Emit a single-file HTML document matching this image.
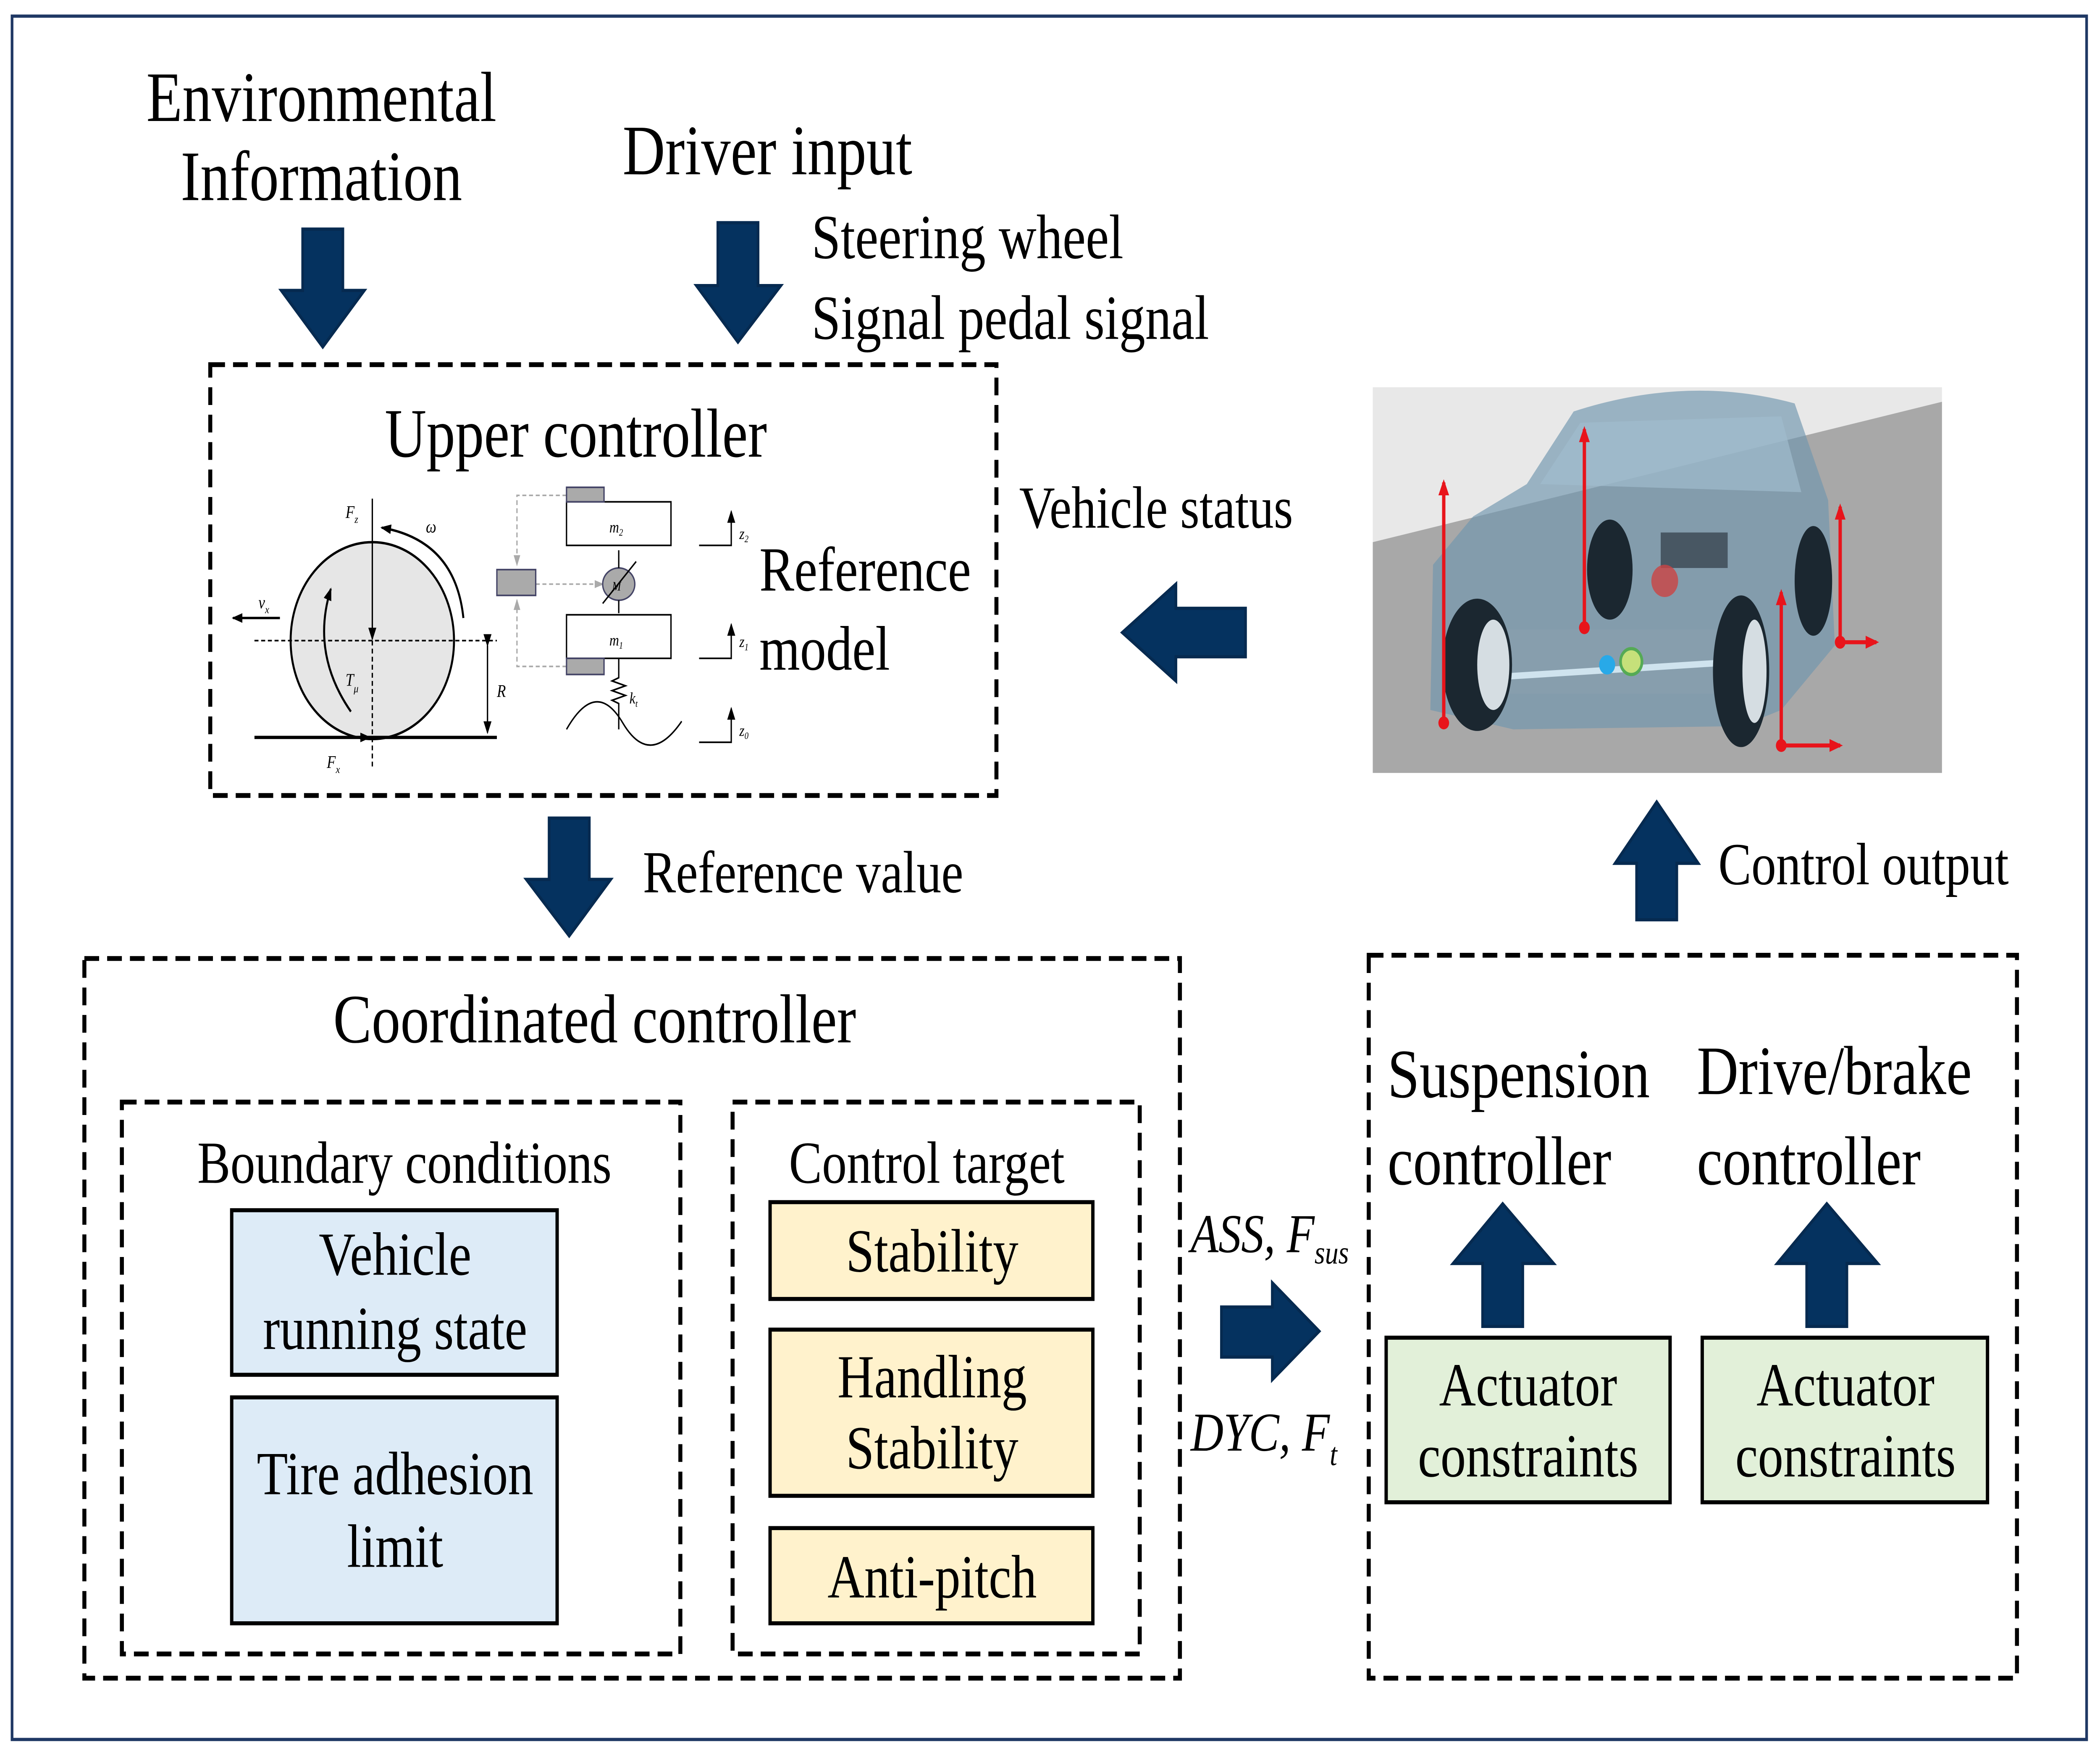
<!DOCTYPE html>
<html><head><meta charset="utf-8"><style>
html,body{margin:0;padding:0;background:#fff;width:100%;height:100%;overflow:hidden}
svg{display:block;position:fixed;left:0;top:0;width:100vw;height:100vh}
text{font-family:"Liberation Serif",serif;fill:#000}
</style></head><body>
<svg viewBox="0 0 1568 1087" preserveAspectRatio="none" xmlns="http://www.w3.org/2000/svg">
<defs>
<marker id="ah" markerWidth="8" markerHeight="8" refX="7" refY="4" orient="auto" markerUnits="userSpaceOnUse"><path d="M0,1 L8,4 L0,7 z" fill="#000"/></marker>
<marker id="ahg" markerWidth="7" markerHeight="7" refX="6" refY="3.5" orient="auto" markerUnits="userSpaceOnUse"><path d="M0,1 L7,3.5 L0,6 z" fill="#aaa"/></marker>
<marker id="ahr" markerWidth="10" markerHeight="10" refX="8" refY="5" orient="auto" markerUnits="userSpaceOnUse"><path d="M0,1 L10,5 L0,9 z" fill="#e8141b"/></marker>
</defs>
<rect x="0" y="0" width="1568" height="1087" fill="#fff"/>
<rect x="9" y="10" width="1549" height="1068" fill="none" stroke="#1f3864" stroke-width="2"/>

<g fill="#05325f" stroke="#062a50" stroke-width="2">
<path d="M226,142 H256 V180 H272 L241,215 L210,180 H226 Z"/>
<path d="M536,138 H566 V177 H583 L551,212 L520,177 H536 Z"/>
<path d="M410,507 H440 V545 H456 L425,580 L393,545 H410 Z"/>
<path d="M930,377 V407 H878 V422 L838,392 L878,362 V377 Z"/>
<path d="M912,810 H950 V795 L985,825 L950,855 V841 H912 Z"/>
<path d="M1222,570 H1252 V535 H1268 L1237,497 L1206,535 H1222 Z"/>
<path d="M1107,822 H1137 V783 H1160 L1122,746 L1085,783 H1107 Z"/>
<path d="M1349,822 H1379 V783 H1402 L1364,746 L1327,783 H1349 Z"/>
</g>

<text x="240" y="75" font-size="44" text-anchor="middle">Environmental</text>
<text x="240" y="124" font-size="44" text-anchor="middle">Information</text>
<text x="573" y="108" font-size="44" text-anchor="middle">Driver input</text>
<text x="606" y="160" font-size="39">Steering wheel</text>
<text x="606" y="210" font-size="39">Signal pedal signal</text>

<g fill="none" stroke="#000" stroke-width="3" stroke-dasharray="11,6">
<rect x="157" y="226" width="587" height="267"/>
<rect x="63" y="594" width="818" height="446"/>
<rect x="91" y="683" width="417" height="342"/>
<rect x="547" y="683" width="304" height="342"/>
<rect x="1022" y="592" width="484" height="448"/>
</g>

<text x="430" y="283" font-size="43" text-anchor="middle">Upper controller</text>
<text x="567" y="366" font-size="39">Reference</text>
<text x="567" y="415" font-size="39">model</text>
<text x="761" y="327" font-size="37">Vehicle status</text>
<text x="480" y="553" font-size="37">Reference value</text>
<text x="1283" y="548" font-size="37">Control output</text>

<g stroke="#000" fill="none">
<circle cx="278" cy="397" r="61" fill="#e6e6e6" stroke-width="1.5"/>
<line x1="190" y1="457" x2="371" y2="457" stroke-width="2"/>
<line x1="190" y1="397" x2="371" y2="397" stroke-width="1" stroke-dasharray="3,2"/>
<line x1="278" y1="397" x2="278" y2="475" stroke-width="1" stroke-dasharray="3,2"/>
<line x1="278" y1="309" x2="278" y2="396" stroke-width="1" marker-end="url(#ah)"/>
<line x1="364" y1="400" x2="364" y2="454" stroke-width="1" marker-start="url(#ah)" marker-end="url(#ah)"/>
<line x1="209" y1="383" x2="174" y2="383" stroke-width="1.5" marker-end="url(#ah)"/>
<path d="M346,383 Q340,335 285,327" stroke-width="1.5" marker-end="url(#ah)"/>
<path d="M262,441 Q232,405 247,365" stroke-width="1.5" marker-end="url(#ah)"/>
<line x1="256" y1="457" x2="276" y2="457" stroke-width="1.5" marker-end="url(#ah)"/>
</g>
<g font-style="italic" font-size="11">
<text x="258" y="321">F<tspan font-size="7" dy="3">z</tspan></text>
<text x="318" y="330">ω</text>
<text x="193" y="377">v<tspan font-size="7" dy="3">x</tspan></text>
<text x="258" y="425">T<tspan font-size="7" dy="4">μ</tspan></text>
<text x="371" y="432">R</text>
<text x="244" y="476">F<tspan font-size="7" dy="3">x</tspan></text>
</g>
<g stroke="#aaa" stroke-width="1" fill="none" stroke-dasharray="3,2">
<polyline points="423,307 386,307 386,350" marker-end="url(#ahg)"/>
<polyline points="423,413 386,413 386,372" marker-end="url(#ahg)"/>
<line x1="400" y1="362" x2="450" y2="362" marker-end="url(#ahg)"/>
</g>
<g stroke="#000" stroke-width="1">
<rect x="423" y="311" width="78" height="27" fill="#fff"/>
<rect x="423" y="381" width="78" height="27" fill="#fff"/>
<rect x="423" y="302" width="28" height="9" fill="#aaa" stroke="#446"/>
<rect x="423" y="408" width="28" height="10" fill="#aaa" stroke="#446"/>
<rect x="371" y="353" width="29" height="16" fill="#aaa" stroke="#446"/>
<ellipse cx="462" cy="362" rx="12" ry="10" fill="#aaa" stroke="#446"/>
<line x1="462" y1="341" x2="462" y2="352"/>
<line x1="462" y1="372" x2="462" y2="380"/>
<line x1="450" y1="374" x2="475" y2="348"/>
<polyline points="462,408 462,420 457,422 467,425 457,428 467,431 457,434 462,436 462,452" fill="none"/>
<path d="M423,452 Q445,420 465,448 T509,447" fill="none"/>
<polyline points="522,338 546,338 546,317" fill="none" marker-end="url(#ah)"/>
<polyline points="522,408 546,408 546,387" fill="none" marker-end="url(#ah)"/>
<polyline points="522,460 546,460 546,439" fill="none" marker-end="url(#ah)"/>
</g>
<g font-style="italic" font-size="10">
<text x="455" y="330">m<tspan font-size="6" dy="2">2</tspan></text>
<text x="455" y="400">m<tspan font-size="6" dy="2">1</tspan></text>
<text x="457" y="366" font-size="8">M</text>
<text x="470" y="436">k<tspan font-size="6" dy="2">t</tspan></text>
<text x="552" y="334">z<tspan font-size="6" dy="2">2</tspan></text>
<text x="552" y="401">z<tspan font-size="6" dy="2">1</tspan></text>
<text x="552" y="456">z<tspan font-size="6" dy="2">0</tspan></text>
</g>

<rect x="1025" y="240" width="425" height="239" fill="#e8e8e8"/>
<polygon points="1025,336 1450,249 1450,479 1025,479" fill="#a8a8a8"/>
<path d="M1068,440 L1070,350 L1100,320 L1140,300 L1175,255 Q1260,232 1340,250 L1365,310 L1370,400 L1330,440 L1300,450 L1130,452 Z" fill="#6f95ae" opacity="0.65"/>
<path d="M1150,300 L1180,262 L1330,258 L1345,305 Z" fill="#9fbccd" opacity="0.7"/>
<rect x="1120" y="390" width="170" height="40" fill="#8aa0ad" opacity="0.6"/>
<rect x="1240" y="330" width="50" height="22" fill="#2f3b44" opacity="0.7"/>
<circle cx="1243" cy="360" r="10" fill="#c44" opacity="0.8"/>
<line x1="1110" y1="420" x2="1300" y2="410" stroke="#cfe3ee" stroke-width="4"/>
<circle cx="1218" cy="410" r="8" fill="#c6e07a" stroke="#5a5" stroke-width="2"/>
<circle cx="1200" cy="412" r="6" fill="#28a9e8"/>
<g fill="#1b2730">
<ellipse cx="1103" cy="412" rx="26" ry="41"/>
<ellipse cx="1300" cy="416" rx="21" ry="47"/>
<ellipse cx="1202" cy="353" rx="17" ry="31"/>
<ellipse cx="1354" cy="360" rx="14" ry="34"/>
</g>
<g fill="#d5dde2"><ellipse cx="1115" cy="412" rx="12" ry="28"/><ellipse cx="1310" cy="416" rx="9" ry="32"/></g>
<g stroke="#e8141b" stroke-width="2.5" fill="none">
<line x1="1078" y1="448" x2="1078" y2="299" marker-end="url(#ahr)"/>
<line x1="1183" y1="389" x2="1183" y2="266" marker-end="url(#ahr)"/>
<line x1="1374" y1="398" x2="1374" y2="314" marker-end="url(#ahr)"/>
<line x1="1374" y1="398" x2="1401" y2="398" marker-end="url(#ahr)"/>
<line x1="1330" y1="462" x2="1330" y2="367" marker-end="url(#ahr)"/>
<line x1="1330" y1="462" x2="1374" y2="462" marker-end="url(#ahr)"/>
</g>
<g fill="#e8141b"><circle cx="1078" cy="448" r="4"/><circle cx="1374" cy="398" r="4"/><circle cx="1330" cy="462" r="4"/><circle cx="1183" cy="389" r="4"/></g>

<text x="444" y="646" font-size="43" text-anchor="middle">Coordinated controller</text>
<text x="302" y="733" font-size="37" text-anchor="middle">Boundary conditions</text>
<text x="692" y="733" font-size="37" text-anchor="middle">Control target</text>
<g stroke="#000" stroke-width="2.5">
<rect x="173" y="750" width="243" height="102" fill="#ddebf7"/>
<rect x="173" y="866" width="243" height="140" fill="#ddebf7"/>
<rect x="575" y="745" width="241" height="60" fill="#fff2cc"/>
<rect x="575" y="824" width="241" height="103" fill="#fff2cc"/>
<rect x="575" y="947" width="241" height="59" fill="#fff2cc"/>
<rect x="1035" y="829" width="212" height="102" fill="#e2f0d9"/>
<rect x="1271" y="829" width="213" height="102" fill="#e2f0d9"/>
</g>
<g font-size="38" text-anchor="middle">
<text x="295" y="790">Vehicle</text>
<text x="295" y="836">running state</text>
<text x="295" y="926">Tire adhesion</text>
<text x="295" y="971">limit</text>
<text x="696" y="788">Stability</text>
<text x="696" y="866">Handling</text>
<text x="696" y="910">Stability</text>
<text x="696" y="990">Anti-pitch</text>
<text x="1141" y="871">Actuator</text>
<text x="1141" y="915">constraints</text>
<text x="1378" y="871">Actuator</text>
<text x="1378" y="915">constraints</text>
</g>
<g font-style="italic" font-size="34">
<text x="889" y="776">ASS<tspan>, </tspan>F<tspan font-size="20" dy="7">sus</tspan></text>
<text x="889" y="899">DYC<tspan>, </tspan>F<tspan font-size="20" dy="9">t</tspan></text>
</g>
<g font-size="43">
<text x="1036" y="680">Suspension</text>
<text x="1036" y="734">controller</text>
<text x="1267" y="678">Drive/brake</text>
<text x="1267" y="734">controller</text>
</g>
</svg>
</body></html>
